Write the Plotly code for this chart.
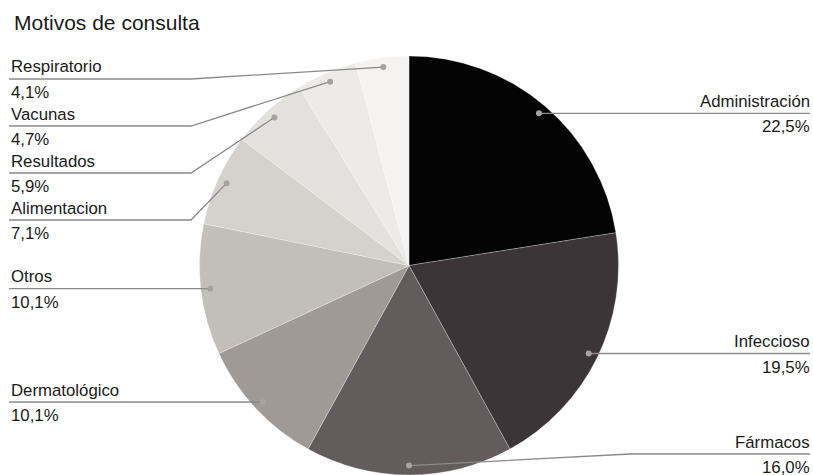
import math
import plotly.graph_objects as go

# ---- data ----
categories = ["Administración", "Infeccioso", "Fármacos", "Dermatológico", "Otros",
              "Alimentacion", "Resultados", "Vacunas", "Respiratorio"]
values = [22.5, 19.5, 16.0, 10.1, 10.1, 7.1, 5.9, 4.7, 4.1]
pct_labels = ["22,5%", "19,5%", "16,0%", "10,1%", "10,1%", "7,1%", "5,9%", "4,7%", "4,1%"]
colors = ["#030303", "#3b3537", "#635c5d", "#9f9a96", "#c2beb9",
          "#d5d2ce", "#e3e1de", "#ecebe8", "#f4f3f1"]

# ---- layout constants (pixels) ----
W, H = 813, 475
CX, CY, R = 409, 265.5, 209.5
DOT_R = 0.955 * R
TOP_MIN, SPACING, BOTTOM_MAX = 79, 47, 454
LEFT_X, RIGHT_X = 9, 812
LEFT_ELBOW, RIGHT_ELBOW = 191, 630
FONT = "Liberation Sans, Arial, Helvetica, sans-serif"
TEXT_COLOR = "#1a1a1a"
LINE_COLOR = "#8a8a8a"


def px(x, y):
    return x / W, 1 - y / H


fig = go.Figure()
fig.add_trace(go.Pie(
    labels=categories, values=values, sort=False, direction="clockwise", rotation=0,
    marker=dict(colors=colors, line=dict(color="rgba(255,255,255,0.45)", width=0.6)),
    textinfo="none", showlegend=False, hoverinfo="label+percent",
    domain=dict(x=[(CX - R) / W, (CX + R) / W], y=[1 - (CY + R) / H, 1 - (CY - R) / H]),
))

# leader dots from slice mid-angles
total = sum(values)
items = []
cum = 0.0
for i, v in enumerate(values):
    mid = (cum + v / 2) / total
    cum += v
    th = 2 * math.pi * mid
    dx = CX + DOT_R * math.sin(th)
    dy = CY - DOT_R * math.cos(th)
    items.append(dict(i=i, dx=dx, dy=dy, side="left" if math.sin(th) < 0 else "right"))

for side in ("left", "right"):
    grp = sorted([it for it in items if it["side"] == side], key=lambda d: d["dy"])
    prev = TOP_MIN - SPACING
    for it in grp:
        it["ly"] = max(it["dy"], prev + SPACING)
        prev = it["ly"]
    nxt = BOTTOM_MAX + SPACING
    for it in reversed(grp):
        it["ly"] = min(it["ly"], nxt - SPACING)
        nxt = it["ly"]

shapes = []
annotations = []
for it in items:
    i, dx, dy, ly = it["i"], it["dx"], it["dy"], it["ly"]
    if it["side"] == "left":
        xs, elbow, anchor, tx = LEFT_X, LEFT_ELBOW, "left", LEFT_X
    else:
        xs, elbow, anchor, tx = RIGHT_X - 2, RIGHT_ELBOW, "right", RIGHT_X
    if abs(ly - dy) < 1.5:
        pts = [(xs, ly), (dx, ly)]
    else:
        pts = [(xs, ly), (elbow, ly), (dx, dy)]
    path = "M " + " L ".join(f"{px(x, y)[0]:.5f},{px(x, y)[1]:.5f}" for x, y in pts)
    shapes.append(dict(type="path", path=path, xref="paper", yref="paper", layer="above",
                       line=dict(color=LINE_COLOR, width=1.3)))
    cx0, cy0 = px(dx - 3, dy - 3)
    cx1, cy1 = px(dx + 3, dy + 3)
    shapes.append(dict(type="circle", xref="paper", yref="paper", layer="above",
                       x0=cx0, x1=cx1, y0=cy1, y1=cy0,
                       fillcolor="#a3a3a3", line=dict(width=0)))
    for txt, oy in ((categories[i], -12), (pct_labels[i], 13.5)):
        ax, ay = px(tx, ly + oy)
        annotations.append(dict(text=txt, x=ax, y=ay, xref="paper", yref="paper",
                                xanchor=anchor, yanchor="middle", showarrow=False,
                                font=dict(family=FONT, size=16.8, color=TEXT_COLOR)))

fig.update_layout(
    width=W, height=H, margin=dict(l=0, r=0, t=0, b=0),
    paper_bgcolor="white", plot_bgcolor="white",
    title=dict(text="Motivos de consulta", x=14 / W, xanchor="left",
               y=1 - 22.5 / H, yanchor="middle",
               font=dict(family=FONT, size=21, color=TEXT_COLOR)),
    shapes=shapes, annotations=annotations,
)

fig.write_html("out.html", config={"displayModeBar": False},
               post_script="document.body.style.margin='0';document.body.style.overflow='hidden';")
